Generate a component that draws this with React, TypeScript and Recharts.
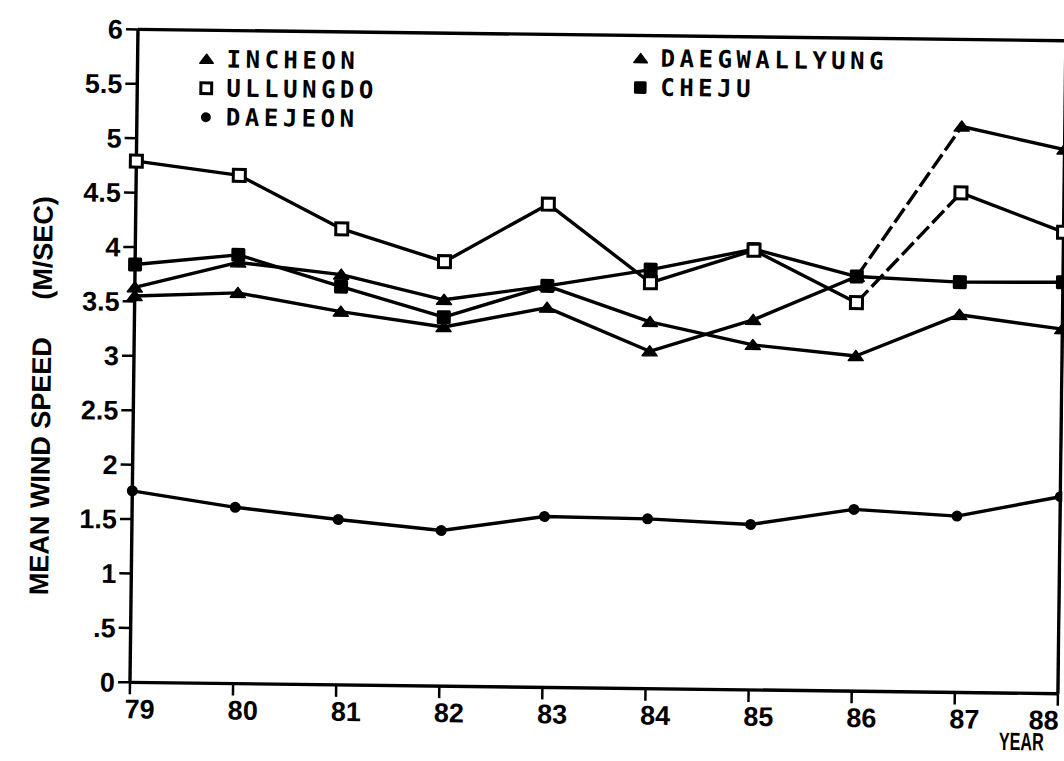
import React from "react";
import { LineChart, Line, XAxis, YAxis, ReferenceLine, Legend } from "recharts";

// ---------------- data ----------------
const years = [79, 80, 81, 82, 83, 84, 85, 86, 87, 88];
const incheon = [3.63, 3.87, 3.77, 3.55, 3.69, 3.37, 3.17, 3.08, 3.47, 3.35];
const ullungdo = [4.79, 4.67, 4.19, 3.9, 4.44, 3.73, 4.04, 3.57, 4.59, 4.24];
const daejeon = [1.76, 1.62, 1.52, 1.43, 1.57, 1.56, 1.52, 1.67, 1.62, 1.81];
const daegwallyung = [3.55, 3.59, 3.43, 3.3, 3.49, 3.1, 3.4, 3.81, 5.2, 5.0];
const cheju = [3.84, 3.94, 3.66, 3.39, 3.69, 3.85, 4.05, 3.81, 3.77, 3.78];

// segments printed as broken (dashed) lines: series key, start year
const dashedFrom: Record<string, number> = { ullungdo: 86, daegwallyung: 86 };

const yTicks = [0, 0.5, 1, 1.5, 2, 2.5, 3, 3.5, 4, 4.5, 5, 5.5, 6];
const yTickLabels = ["0", ".5", "1", "1.5", "2", "2.5", "3", "3.5", "4", "4.5", "5", "5.5", "6"];
const yAxisTitle = "MEAN WIND SPEED\u00A0\u00A0\u00A0\u00A0\u00A0(M/SEC)";
const xAxisTitle = "YEAR";

const valuesByKey: Record<string, number[]> = { incheon, ullungdo, daejeon, daegwallyung, cheju };

const data = years.map((year, i) => {
  const row: Record<string, number | null> = { year };
  Object.keys(valuesByKey).forEach((k) => {
    const v = valuesByKey[k][i];
    row[k] = v;
    const d = dashedFrom[k];
    if (d != null) {
      row[`${k}_a`] = year <= d ? v : null;
      row[`${k}_b`] = year === d || year === d + 1 ? v : null;
      row[`${k}_c`] = year >= d + 1 ? v : null;
    }
  });
  return row;
});

type MarkerKind = "triangle" | "openSquare" | "circle" | "filledSquare";

const series: { key: string; name: string; marker: MarkerKind; col: number; row: number }[] = [
  { key: "incheon", name: "INCHEON", marker: "triangle", col: 0, row: 0 },
  { key: "ullungdo", name: "ULLUNGDO", marker: "openSquare", col: 0, row: 1 },
  { key: "daejeon", name: "DAEJEON", marker: "circle", col: 0, row: 2 },
  { key: "daegwallyung", name: "DAEGWALLYUNG", marker: "triangle", col: 1, row: 0 },
  { key: "cheju", name: "CHEJU", marker: "filledSquare", col: 1, row: 1 },
];
const drawOrder = ["daejeon", "incheon", "daegwallyung", "cheju", "ullungdo"];

// ---------------- styles ----------------
const W = 1064;
const H = 761;
const INK = "#000";
const LINE_W = 3.4;
const FONT = "'Liberation Sans', Arial, 'DejaVu Sans', sans-serif";
const MONO = "'DejaVu Sans Mono', 'Liberation Mono', monospace";

function Marker({ kind, cx, cy, scale = 1 }: { kind: MarkerKind; cx: number; cy: number; scale?: number }) {
  const s = scale;
  if (kind === "triangle") {
    return (
      <polygon
        points={`${cx - 7.5 * s},${cy + 4.5 * s} ${cx + 7.5 * s},${cy + 4.5 * s} ${cx},${cy - 5.5 * s}`}
        fill={INK}
        stroke={INK}
        strokeWidth={1.5}
        strokeLinejoin="round"
      />
    );
  }
  if (kind === "openSquare") {
    return (
      <rect x={cx - 6 * s} y={cy - 6 * s} width={12 * s} height={12 * s} fill="#fff" stroke={INK} strokeWidth={3} />
    );
  }
  if (kind === "circle") {
    return <circle cx={cx} cy={cy} r={5.5 * s} fill={INK} />;
  }
  return <rect x={cx - 7 * s} y={cy - 7 * s} width={14 * s} height={14 * s} fill={INK} rx={1.5} />;
}

const makeDot = (kind: MarkerKind) => (p: any) => {
  if (p.cx == null || p.cy == null || p.value == null) return <g key={`e${p.index}`} />;
  return <Marker key={`${kind}-${p.index}`} kind={kind} cx={p.cx} cy={p.cy} />;
};

const XTick = (props: any) => {
  const { x, y, payload } = props;
  const cx = Math.min(x + 10, W - 16);
  return (
    <text x={cx} y={y + 22} textAnchor="middle" fill={INK} fontSize={27} fontWeight={700} fontFamily={FONT}>
      {payload.value}
    </text>
  );
};

const yTickFormatter = (v: number) => {
  const i = yTicks.indexOf(v);
  return i >= 0 ? yTickLabels[i] : String(v);
};

const YTitle = (p: any) => {
  const vb = p.viewBox || { x: 0, y: 35, width: 134, height: 653 };
  const cx = vb.x + 42;
  const cy = vb.y + vb.height / 2 + 41;
  return (
    <text
      x={cx}
      y={cy}
      transform={`rotate(-90 ${cx} ${cy})`}
      textAnchor="middle"
      dominantBaseline="central"
      fill={INK}
      fontSize={27}
      fontWeight={700}
      fontFamily={FONT}
    >
      {yAxisTitle}
    </text>
  );
};

const XTitle = (p: any) => {
  const vb = p.viewBox || { x: 134, y: 688, width: 928, height: 50 };
  const cx = vb.x + vb.width - 36;
  const cy = vb.y + 57;
  return (
    <text
      x={cx}
      y={cy}
      textAnchor="middle"
      fill={INK}
      fontSize={25}
      fontWeight={700}
      fontFamily={FONT}
      textLength={45}
      lengthAdjust="spacingAndGlyphs"
    >
      {xAxisTitle}
    </text>
  );
};

const legendCols = [
  { left: 195, top: 50 },
  { left: 629, top: 44 },
];
const legendRowGap = 29;

const LegendContent = () => (
  <div style={{ position: "absolute", left: 0, top: 0, width: 0, height: 0 }}>
    {series.map((s) => (
      <div
        key={s.key}
        style={{
          position: "absolute",
          left: legendCols[s.col].left,
          top: legendCols[s.col].top + s.row * legendRowGap,
          height: 28,
          display: "flex",
          alignItems: "center",
          whiteSpace: "nowrap",
          fontFamily: MONO,
          fontWeight: 700,
          fontSize: 24,
          letterSpacing: 4.5,
          color: INK,
          lineHeight: "28px",
        }}
      >
        <svg width={16} height={16} style={{ marginRight: 12, overflow: "visible" }}>
          <Marker kind={s.marker} cx={8} cy={8} scale={0.9} />
        </svg>
        <span>{s.name}</span>
      </div>
    ))}
  </div>
);

function seriesLines(k: string) {
  const s = series.find((x) => x.key === k)!;
  const common = {
    type: "linear" as const,
    stroke: INK,
    strokeWidth: LINE_W,
    strokeLinejoin: "round" as const,
    activeDot: false as const,
    isAnimationActive: false,
    legendType: "none" as const,
  };
  if (dashedFrom[k] == null) {
    return [<Line key={k} {...common} dataKey={k} name={s.name} dot={makeDot(s.marker)} />];
  }
  return [
    <Line key={`${k}_a`} {...common} dataKey={`${k}_a`} name={s.name} dot={false} connectNulls={false} />,
    <Line
      key={`${k}_b`}
      {...common}
      dataKey={`${k}_b`}
      name={s.name}
      dot={false}
      connectNulls={false}
      strokeDasharray="17 5"
    />,
    <Line key={`${k}_c`} {...common} dataKey={`${k}_c`} name={s.name} dot={false} connectNulls={false} />,
    <Line key={`${k}_dots`} {...common} stroke="none" dataKey={k} name={s.name} dot={makeDot(s.marker)} />,
  ];
}

export default function App() {
  return (
    <div
      style={{
        position: "absolute",
        left: 0,
        top: 0,
        width: W,
        height: H,
        background: "#fff",
        overflow: "hidden",
      }}
    >
      <div style={{ width: W, height: H, transform: "rotate(0.7deg)", transformOrigin: "595px 357px" }}>
        <LineChart width={W} height={H} data={data} margin={{ top: 35, right: 2, bottom: 23, left: 0 }}>
          <XAxis
            dataKey="year"
            type="number"
            domain={[79, 88]}
            ticks={years}
            interval={0}
            height={50}
            tickSize={12}
            tickMargin={2}
            tick={<XTick />}
            axisLine={{ stroke: INK, strokeWidth: 3.4 }}
            tickLine={{ stroke: INK, strokeWidth: 2.5 }}
            label={{ content: <XTitle /> }}
          />
          <YAxis
            type="number"
            domain={[0, 6]}
            ticks={yTicks}
            interval={0}
            width={134}
            tickSize={12}
            tickMargin={3}
            tickFormatter={yTickFormatter}
            tick={{ fill: INK, fontSize: 27, fontWeight: 700, fontFamily: FONT }}
            axisLine={{ stroke: INK, strokeWidth: 3.4 }}
            tickLine={{ stroke: INK, strokeWidth: 2.5 }}
            label={{ content: <YTitle /> }}
          />
          <ReferenceLine y={6} stroke={INK} strokeWidth={3.4} ifOverflow="visible" />
          <ReferenceLine x={88} stroke={INK} strokeWidth={3.4} ifOverflow="visible" />
          <Legend
            content={<LegendContent />}
            wrapperStyle={{ position: "absolute", left: 0, top: 0, width: 0, height: 0 }}
          />
          {drawOrder.flatMap((k) => seriesLines(k))}
        </LineChart>
      </div>
    </div>
  );
}
